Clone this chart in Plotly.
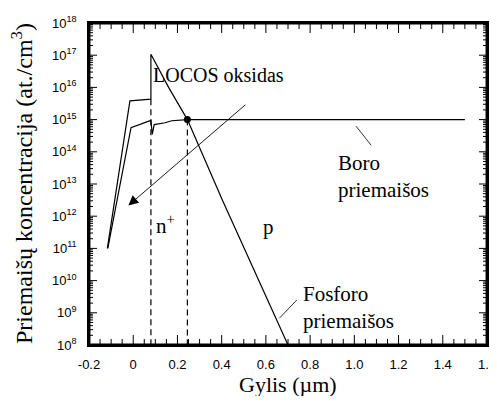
import plotly.graph_objects as go

# Phosphorus (Fosforo) profile
phos_x = [-0.117, -0.015, 0.080, 0.080, 0.160, 0.245, 0.402, 0.538, 0.700]
phos_y = [1.0e11, 3.8e15, 4.3e15, 1.07e17, 1.0e16, 1.0e15, 3.3e12, 2.8e10, 1.0e8]

# Boron (Boro) profile
boro_x = [-0.115, -0.010, 0.080, 0.086, 0.095, 0.144, 0.174, 0.245, 1.500]
boro_y = [1.0e11, 5.6e14, 9.5e14, 3.5e14, 7.0e14, 8.0e14, 9.2e14, 1.0e15, 1.0e15]

# Junction markers (dashed verticals) and junction point
dash1_x = [0.080, 0.080]
dash1_y = [4.3e15, 1.0e8]
dash2_x = [0.245, 0.245]
dash2_y = [1.0e15, 1.0e8]
junction_x = [0.245]
junction_y = [1.0e15]

# Leader lines for labels
boro_lead_x = [1.008, 1.076]
boro_lead_y = [6.2e14, 1.6e14]
fos_lead_x = [0.740, 0.661]
fos_lead_y = [2.5e9, 6.8e8]

x_ticks = [-0.2, 0, 0.2, 0.4, 0.6, 0.8, 1.0, 1.2, 1.4, 1.6]
x_ticktext = ["-0.2", "0", "0.2", "0.4", "0.6", "0.8", "1.0", "1.2", "1.4", "1.6"]
y_exps = [8, 9, 10, 11, 12, 13, 14, 15, 16, 17, 18]

X_RANGE = [-0.2, 1.6]
Y_RANGE = [8, 18]  # log10

# layout geometry (page body adds an 8px margin)
ML, MT, PW, PH = 81, 15, 398, 322
FIG_W, FIG_H = 489, 388

x_minor = [round(-0.2 + 0.05 * i, 3) for i in range(37) if i % 4 != 0]
y_minor = [m * 10 ** e for e in y_exps[:-1] for m in range(2, 10)]

dx_px = (X_RANGE[1] - X_RANGE[0]) / PW
dy_px = (Y_RANGE[1] - Y_RANGE[0]) / PH
inset_x = 0.7 * dx_px
inset_y = 0.7 * dy_px


def xticks_path(vals, length):
    xs, ys = [], []
    for v in vals:
        xs += [v, v, None, v, v, None]
        ys += [10 ** Y_RANGE[0], 10 ** (Y_RANGE[0] + length * dy_px), None,
               10 ** Y_RANGE[1], 10 ** (Y_RANGE[1] - length * dy_px), None]
    return xs, ys


def yticks_path(vals, length):
    xs, ys = [], []
    for v in vals:
        xs += [X_RANGE[0], X_RANGE[0] + length * dx_px, None, X_RANGE[1], X_RANGE[1] - length * dx_px, None]
        ys += [v, v, None, v, v, None]
    return xs, ys


line = dict(color="black", width=1.2)
fig = go.Figure()
fig.add_trace(go.Scatter(x=phos_x, y=phos_y, mode="lines", line=line))
fig.add_trace(go.Scatter(x=boro_x, y=boro_y, mode="lines", line=line))
fig.add_trace(go.Scatter(x=dash1_x, y=dash1_y, mode="lines", line=dict(color="black", width=1.2, dash="6px,4px")))
fig.add_trace(go.Scatter(x=dash2_x, y=dash2_y, mode="lines", line=dict(color="black", width=1.2, dash="6px,4px")))
fig.add_trace(go.Scatter(x=boro_lead_x, y=boro_lead_y, mode="lines", line=dict(color="black", width=0.8)))
fig.add_trace(go.Scatter(x=fos_lead_x, y=fos_lead_y, mode="lines", line=dict(color="black", width=0.8)))
fig.add_trace(go.Scatter(x=junction_x, y=junction_y, mode="markers", marker=dict(color="black", size=7)))

# inside ticks on all four sides (clipped to the plot area like the data lines)
tick_line = dict(color="black", width=1)
for xs, ys in [xticks_path(x_ticks, 10), xticks_path(x_minor, 6),
               yticks_path([10 ** e for e in y_exps], 8), yticks_path(y_minor, 4)]:
    fig.add_trace(go.Scatter(x=xs, y=ys, mode="lines", line=tick_line,
                             connectgaps=False, hoverinfo="skip"))
# frame, inset slightly so it is not clipped
fx0, fx1 = X_RANGE[0] + inset_x, X_RANGE[1] - inset_x
fy0, fy1 = 10 ** (Y_RANGE[0] + inset_y), 10 ** (Y_RANGE[1] - inset_y)
fig.add_trace(go.Scatter(x=[fx0, fx1, fx1, fx0, fx0], y=[fy0, fy0, fy1, fy1, fy0],
                         mode="lines", line=dict(color="black", width=1.5), hoverinfo="skip"))

serif = "Liberation Serif, Times New Roman, serif"
ann_font = dict(family=serif, size=20, color="black")
big_font = dict(family=serif, size=21, color="black")
fig.add_annotation(x=0.385, y=16.4, xref="x", yref="y", text="LOCOS oksidas", showarrow=False, font=ann_font)
fig.add_annotation(x=-0.022, y=12.33, ax=0.514, ay=15.5, xref="x", yref="y", axref="x", ayref="y",
                   text="", showarrow=True, arrowhead=2, arrowsize=2.2, arrowwidth=0.9, arrowcolor="black")
fig.add_annotation(x=0.144, y=11.74, xref="x", yref="y", text="n<sup>+</sup>", showarrow=False, font=big_font)
fig.add_annotation(x=0.61, y=11.68, xref="x", yref="y", text="p", showarrow=False, font=big_font)
fig.add_annotation(x=0.915, y=13.22, xref="x", yref="y", text="Boro<br>priemaišos", showarrow=False,
                   font=big_font, xanchor="left", align="left")
fig.add_annotation(x=0.76, y=9.15, xref="x", yref="y", text="Fosforo<br>priemaišos", showarrow=False,
                   font=big_font, xanchor="left", align="left")
# axis titles
fig.add_annotation(x=0.5, y=0, xref="paper", yref="paper", yshift=-39, yanchor="middle",
                   text="Gylis (µm)", showarrow=False, font=dict(family=serif, size=22, color="black"))
fig.add_annotation(x=0, y=0.5, xref="paper", yref="paper", xshift=-67, xanchor="center", yanchor="middle",
                   textangle=-90, text="Priemaišų koncentracija (at./cm<sup>3</sup>)", showarrow=False,
                   font=dict(family=serif, size=24, color="black"))

fig.update_layout(
    width=FIG_W, height=FIG_H,
    margin=dict(l=ML, r=FIG_W - ML - PW, t=MT, b=FIG_H - MT - PH, autoexpand=False),
    plot_bgcolor="white", paper_bgcolor="white",
    showlegend=False,
    font=dict(family="Arial, Liberation Sans, sans-serif", size=13, color="black"),
    xaxis=dict(
        range=X_RANGE, tickmode="array", tickvals=x_ticks, ticktext=x_ticktext, ticks="",
        showline=True, linecolor="black", linewidth=1.5, mirror=True,
        showgrid=False, zeroline=False, ticklabelstandoff=7, ticklabeloverflow="allow",
    ),
    yaxis=dict(
        type="log", range=Y_RANGE, tickmode="array",
        tickvals=[10 ** e for e in y_exps], ticktext=[f"10<sup>{e}</sup>" for e in y_exps], ticks="",
        showline=True, linecolor="black", linewidth=1.5, mirror=True,
        showgrid=False, zeroline=False, ticklabelstandoff=8,
    ),
)
fig.write_html("out.html")
